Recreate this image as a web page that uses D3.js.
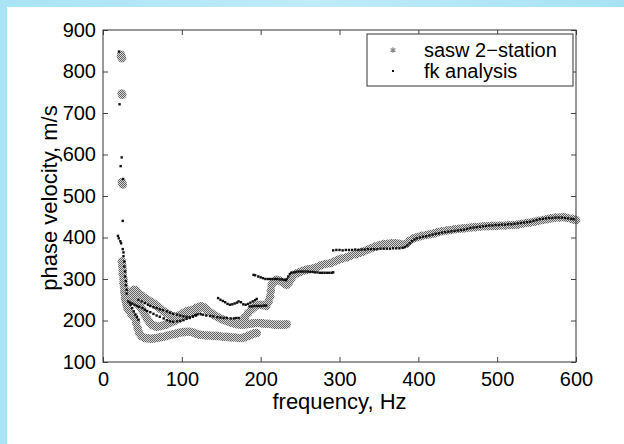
<!DOCTYPE html>
<html lang="en">
<head>
<meta charset="utf-8">
<title>Phase velocity dispersion</title>
<script src="https://cdnjs.cloudflare.com/ajax/libs/d3/7.8.5/d3.min.js"></script>
<style>
  html, body { margin: 0; padding: 0; background: #fff; }
  svg { display: block; font-family: "Liberation Sans", Arial, sans-serif; }
</style>
</head>
<body>
<div id="chart"></div>
<script>
// axis ticks
const xTicks = [0, 100, 200, 300, 400, 500, 600];
const yTicks = [100, 200, 300, 400, 500, 600, 700, 800, 900];
const legendLabels = ['sasw 2\u2212station', 'fk analysis'];

// sasw 2-station picks, [frequency Hz, velocity m/s]
const saswEarly = [[22.8,836],[24,832],[23,840],[23.7,747],[24.5,744],[24,533],[25,528],
  [24,342],[24.5,332],[25,322],[25,312],[26,300],[26,290],[27,280],[27,270],[28,262],
  [28,254],[29,246],[30,238],[31,230],[33,224],[36,216],[39,210]];
const saswLower = [[39,210],[42,195],[44,182],[46,170],[49,162],[53,158],[57,157],[61,156],
  [65,157],[69,158],[73,160],[77,161],[81,163],[85,165],[89,167],[94,169],[98,171],[102,172],
  [106,173],[110,173],[114,171],[118,168],[122,166],[127,165],[131,164],[135,164],[140,163],
  [144,163],[148,162],[152,161],[156,161],[160,160],[164,159],[168,159],[172,158],[176,158],
  [180,160],[184,163],[188,166],[192,169],[195,170]];
const saswMid = [[35,258],[38,252],[41,246],[44,240],[47,234],[50,225],[53,214],[56,204],
  [59,196],[62,190],[65,187],[68,185],[72,186],[76,188],[80,190],[85,194],[90,198],[95,203],
  [100,208],[105,214],[110,219],[115,222],[120,224]];
const saswUpper = [[33,262],[36,270],[39,274],[42,272],[45,266],[49,260],[53,254],[57,249],
  [61,245],[65,240],[69,234],[73,228],[77,222],[81,217],[85,213],[89,210],[94,210],[98,214],
  [102,218],[106,222],[110,224],[114,226],[118,230],[122,233],[125,234],[128,232],[131,227],
  [134,222],[138,217],[142,212],[146,208],[150,204],[154,201],[158,198],[162,195],[166,193],
  [170,191],[174,190],[178,190],[182,191],[186,192],[190,193],[194,194],[198,194],[202,193],
  [206,192],[210,192],[214,191],[218,190],[222,190],[226,190],[230,190],[233,191]];
const saswRise = [[176,200],[180,208],[184,218],[188,226],[191,231],[195,236],[199,238],
  [203,237],[207,235],[210,245],[212,258],[213,272],[214,286],[217,294],[220,298],[224,296],
  [228,292],[231,288],[233,286],[236,292],[239,302],[242,310],[246,314],[250,317],[254,320],
  [258,322],[262,324],[267,326],[272,329],[277,333],[282,336],[288,338],[293,342],[298,346],
  [303,349],[309,352],[314,356],[320,360],[325,363],[330,366],[335,370],[340,374],[345,378],
  [351,382],[356,384],[361,385],[366,386],[371,386],[376,385],[381,383],[385,385],[389,392],
  [394,398],[399,401],[404,404],[410,406],[415,408],[420,410],[425,413],[430,415],[436,417],
  [441,418],[446,420],[452,421],[457,422],[462,423],[467,424],[472,425],[478,426],[483,427],
  [488,427],[494,428],[499,428],[504,429],[510,429],[515,430],[520,430],[526,431],[531,433],
  [537,435],[542,436],[547,438],[552,440],[558,442],[563,444],[568,446],[574,448],[579,448],
  [584,449],[589,447],[594,445],[598,443],[600,442]];

// fk analysis picks
const fkEarly = [[20.3,848],[21,721],[23.7,593],[22.4,572],[25.4,541],[25,440],[19,404],
  [20,398],[22,391],[23,386],[25,372],[26,364],[26,355],[27,342],[27,330],[28,318],[28,306],
  [29,295],[29,285],[30,274],[30,265]];
const fkLowerCurve = [[32,246],[34,243],[37,241],[40,238],[43,235],[46,233],[50,230],[53,226],
  [56,223],[60,220],[64,216],[68,212],[72,209],[77,205],[81,201],[85,198],[89,197],[94,198],
  [98,199],[102,201],[106,204],[110,206],[114,209],[118,212]];
const fkShort = [[35,238],[37,230],[39,222],[41,214],[43,208],[45,202]];
const fkUpperCurve = [[45,250],[49,246],[53,242],[57,238],[60,235],[64,232],[68,230],[72,227],
  [76,225],[81,222],[85,219],[89,216],[94,214],[98,212],[102,210],[106,209],[110,208],
  [114,210],[117,213],[120,215],[124,215],[127,214],[131,212],[136,211],[140,210],[145,208],
  [149,207],[153,206],[157,206],[162,205],[166,205],[169,206],[172,206]];
const fkMid = [[146,254],[149,250],[152,247],[155,244],[158,240],[161,238],[164,239],[167,241],
  [170,243],[172,246],[175,244],[178,239],[181,238],[184,240],[187,243],[190,246],[193,249],[195,252]];
const fkStep = [[186,234],[189,234],[192,235],[195,235],[198,235],[201,235],[204,236],[207,236]];
const fk300 = [[191,310],[193,309],[197,306],[200,304],[203,302],[206,300],[209,300],[212,300],
  [215,300],[218,300],[221,300],[224,299],[227,299],[230,298],[232,297]];
const fk315 = [[233,300],[235,306],[237,312],[239,315],[242,316],[245,317],[248,318],[251,318],
  [254,318],[257,318],[260,318],[263,317],[266,317],[269,316],[272,316],[275,315],[278,315],
  [281,315],[284,315],[287,315],[290,315],[292,316]];
const fkHigh = [[292,369],[296,370],[300,370],[304,369],[308,370],[312,370],[316,370],[320,371],
  [324,370],[328,371],[332,371],[336,372],[340,372],[344,372],[348,372],[352,373],[356,373],
  [360,373],[364,373],[368,374],[372,374],[376,374],[380,375],[383,377],[386,381],[389,386],
  [392,391],[395,395],[398,398],[402,400],[406,402],[410,403],[414,405],[418,407],[422,409],
  [426,410],[430,412],[434,413],[438,414],[442,415],[446,416],[450,417],[454,418],[458,419],
  [462,421],[466,423],[470,424],[474,425],[478,426],[482,427],[486,428],[490,429],[494,429],
  [498,430],[502,430],[506,431],[510,431],[514,432],[518,432],[522,433],[526,434],[530,435],
  [534,436],[538,437],[542,438],[546,440],[550,442],[554,444],[558,445],[562,446],[566,447],
  [570,447],[574,448],[578,448],[582,448],[586,447],[590,446],[594,445],[597,444]];

const sasw = [].concat(saswEarly, saswLower, saswMid, saswUpper, saswRise);
const fk = [].concat(fkEarly, fkLowerCurve, fkShort, fkUpperCurve, fkMid, fkStep, fk300, fk315, fkHigh);

const w = 624, h = 444;
const plotLeft = 103, plotRight = 576, plotTop = 30, plotBottom = 362;

const svg = d3.select('#chart').append('svg')
  .attr('width', w)
  .attr('height', h);

// dithered grey like the original print
const defs = svg.append('defs');
const pat = defs.append('pattern')
  .attr('id', 'dither')
  .attr('width', 2).attr('height', 2)
  .attr('patternUnits', 'userSpaceOnUse');
pat.append('rect').attr('width', 2).attr('height', 2).attr('fill', '#d8d8d8');
pat.append('rect').attr('width', 1).attr('height', 1).attr('fill', '#626262');
pat.append('rect').attr('x', 1).attr('y', 1).attr('width', 1).attr('height', 1).attr('fill', '#626262');

// light blue frame, top and left
const bg = defs.append('linearGradient').attr('id', 'frame').attr('x1', 0).attr('x2', 1);
bg.append('stop').attr('offset', '0%').attr('stop-color', '#a9e3f5');
bg.append('stop').attr('offset', '50%').attr('stop-color', '#c0ebf8');
bg.append('stop').attr('offset', '100%').attr('stop-color', '#a7e2f4');
svg.append('rect').attr('width', w).attr('height', h).attr('fill', 'url(#frame)');
svg.append('rect').attr('x', 7).attr('y', 7).attr('width', w - 7).attr('height', h - 7).attr('fill', '#fff');

const x = d3.scaleLinear().domain([0, 600]).range([plotLeft, plotRight]);
const y = d3.scaleLinear().domain([100, 900]).range([plotBottom, plotTop]);

// points
svg.append('g').selectAll('circle')
  .data(sasw)
  .enter()
  .append('circle')
  .attr('cx', d => x(d[0]))
  .attr('cy', d => y(d[1]))
  .attr('r', 4.3)
  .attr('fill', 'url(#dither)');

svg.append('g').selectAll('rect')
  .data(fk)
  .enter()
  .append('rect')
  .attr('x', d => x(d[0]) - 1.2)
  .attr('y', d => y(d[1]) - 1.2)
  .attr('width', 2.4)
  .attr('height', 2.4)
  .attr('fill', '#111');

// axes with inward ticks on all four sides
const xAxis = d3.axisBottom(x).tickValues(xTicks).tickSize(-5).tickPadding(10).tickFormat(d3.format('d'));
const yAxis = d3.axisLeft(y).tickValues(yTicks).tickSize(-5).tickPadding(7).tickFormat(d3.format('d'));

svg.append('g').attr('transform', 'translate(0,' + plotBottom + ')').call(xAxis);
svg.append('g').attr('transform', 'translate(' + plotLeft + ',0)').call(yAxis);
svg.append('g').attr('transform', 'translate(0,' + plotTop + ')')
  .call(d3.axisTop(x).tickValues(xTicks).tickSize(-5).tickFormat(''));
svg.append('g').attr('transform', 'translate(' + plotRight + ',0)')
  .call(d3.axisRight(y).tickValues(yTicks).tickSize(-5).tickFormat(''));

svg.selectAll('.domain').remove();
svg.selectAll('.tick line').attr('stroke', '#444');
svg.selectAll('.tick text').attr('font-size', 20).attr('fill', '#000')
  .attr('font-family', '"Liberation Sans", Arial, sans-serif');

svg.append('rect')
  .attr('x', plotLeft).attr('y', plotTop)
  .attr('width', plotRight - plotLeft).attr('height', plotBottom - plotTop)
  .attr('fill', 'none')
  .attr('stroke', '#333')
  .attr('stroke-width', 1);

// axis titles
svg.append('text')
  .attr('x', (plotLeft + plotRight) / 2)
  .attr('y', 409)
  .attr('text-anchor', 'middle')
  .attr('font-size', 22)
  .text('frequency, Hz');

svg.append('text')
  .attr('transform', 'translate(57,198) rotate(-90)')
  .attr('text-anchor', 'middle')
  .attr('font-size', 22)
  .text('phase velocity, m/s');

// legend
const legend = svg.append('g');
legend.append('rect')
  .attr('x', 367).attr('y', 34)
  .attr('width', 206).attr('height', 52)
  .attr('fill', '#fff')
  .attr('stroke', '#333');

const star = d3.symbol().type(d3.symbolAsterisk).size(22);
legend.append('path')
  .attr('d', star())
  .attr('transform', 'translate(393,50)')
  .attr('stroke', '#888')
  .attr('stroke-width', 1.2)
  .attr('fill', 'none');
legend.append('rect')
  .attr('x', 392).attr('y', 70)
  .attr('width', 2).attr('height', 2)
  .attr('fill', '#111');

legend.selectAll('.leg-text')
  .data(legendLabels)
  .enter()
  .append('text')
  .attr('class', 'leg-text')
  .attr('x', 424)
  .attr('y', (d, i) => 57 + i * 21)
  .attr('font-size', 20)
  .text(d => d);
</script>
</body>
</html>
